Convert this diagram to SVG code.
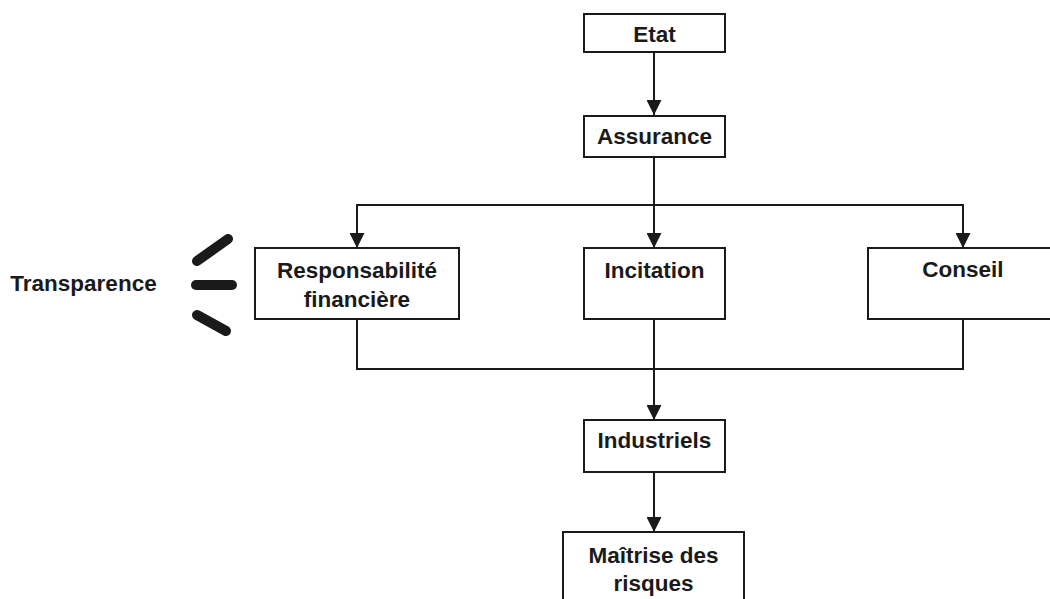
<svg xmlns="http://www.w3.org/2000/svg" width="1050" height="599" viewBox="0 0 1050 599">
<defs>
<marker id="ah" viewBox="0 0 15 15" refX="15" refY="7.5" markerWidth="15" markerHeight="15" markerUnits="userSpaceOnUse" orient="auto">
<path d="M0,0 L15,7.5 L0,15 Z" fill="#1a1a1a"/>
</marker>
<style>
.box{fill:#fff;stroke:#1a1a1a;stroke-width:2}
.t{font-family:"Liberation Sans",Arial,sans-serif;font-weight:bold;font-size:22.5px;fill:#1a1a1a;text-anchor:middle}
.c{fill:none;stroke:#1a1a1a;stroke-width:2}
.dash{stroke:#1a1a1a;stroke-width:10;stroke-linecap:round}
</style>
</defs>
<rect width="1050" height="599" fill="#fff"/>
<g id="connectors">
<line class="c" x1="654" y1="52" x2="654" y2="115" marker-end="url(#ah)"/>
<line class="c" x1="654" y1="157" x2="654" y2="248" marker-end="url(#ah)"/>
<polyline class="c" points="357,248 357,205 963,205 963,248"/>
<line class="c" x1="357" y1="233" x2="357" y2="248" marker-end="url(#ah)"/>
<line class="c" x1="963" y1="233" x2="963" y2="248" marker-end="url(#ah)"/>
<polyline class="c" points="357,319 357,369 963,369 963,319"/>
<line class="c" x1="654" y1="319" x2="654" y2="420" marker-end="url(#ah)"/>
<line class="c" x1="654" y1="472" x2="654" y2="532" marker-end="url(#ah)"/>
</g>
<g id="etat"><rect class="box" x="584" y="14" width="141" height="38"/><text class="t" x="654.5" y="42">Etat</text></g>
<g id="assurance"><rect class="box" x="584" y="116" width="141" height="41"/><text class="t" x="654.5" y="144">Assurance</text></g>
<g id="responsabilite"><rect class="box" x="255" y="248" width="204" height="71"/><text class="t" x="357" y="278">Responsabilité</text><text class="t" x="357" y="307">financière</text></g>
<g id="incitation"><rect class="box" x="584" y="248" width="141" height="71"/><text class="t" x="654.5" y="278">Incitation</text></g>
<g id="conseil"><rect class="box" x="868" y="248" width="190" height="71"/><text class="t" x="963" y="277">Conseil</text></g>
<g id="industriels"><rect class="box" x="584" y="420" width="141" height="52"/><text class="t" x="654.5" y="448">Industriels</text></g>
<g id="maitrise"><rect class="box" x="563" y="532" width="181" height="75"/><text class="t" x="653.5" y="563">Maîtrise des</text><text class="t" x="653.5" y="591">risques</text></g>
<g id="transparence"><text class="t" x="83.5" y="291">Transparence</text>
<line class="dash" x1="197" y1="261" x2="228" y2="239"/>
<line class="dash" x1="196" y1="285" x2="232" y2="285"/>
<line class="dash" x1="197" y1="315" x2="226" y2="331"/>
</g>
</svg>
